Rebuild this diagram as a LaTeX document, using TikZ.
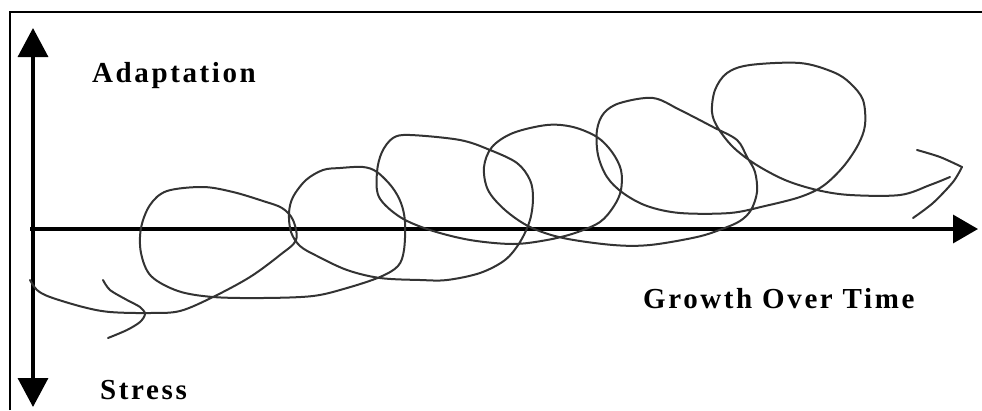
\documentclass[tikz,border=0pt]{standalone}
\usepackage{fontspec}
\usetikzlibrary{arrows.meta}
\newfontfamily\lblfont[LetterSpace=9]{Liberation Serif}
\begin{document}
\begin{tikzpicture}[x=1pt,y=-1pt,
  axisline/.style={line width=3.4pt,-{Triangle[length=29pt,width=30pt]}},
  scribble/.style={line width=2pt,line cap=round,line join=round,color=black!80},
  lbl/.style={anchor=base west,inner sep=0pt,font=\lblfont\bfseries\fontsize{29}{31}\selectfont}]
\useasboundingbox (0,0) rectangle (982,410);
% frame (top and left edges visible)
\draw[line width=2pt] (10,410) -- (10,12) -- (982,12);
% axes
\coordinate (o) at (33,229);
\coordinate (up) at (33,28);
\coordinate (down) at (33,407);
\coordinate (hl) at (30,229);
\coordinate (hr) at (978,229);
\draw[axisline] (o) -- (up);
\draw[axisline] (o) -- (down);
\draw[line width=3.4pt,-{Triangle[length=25pt,width=28pt]}] (hl) -- (hr);
% labels
\node[lbl] (adapt) at (92,82) {Adaptation};
\node[lbl] (stress) at (100,399) {Stress};
\node[lbl] (growth) at (643,308) {Growth Over Time};
% scribbled spiral
\draw[scribble] plot[smooth,tension=0.55] coordinates {
(30,280) (37,290) (50,297) (83,307) (110,312) (150,313) (180,311)
(213,297) (250,277) (280,255) (296,240) (293,220) (282,208) (263,201)
(233,192) (203,187) (167,191) (150,205) (141,228) (141,253) (151,276)
(178,291) (213,297) (263,298) (313,296) (347,288) (380,277) (398,266)
(404,250) (405,222) (401,203) (392,187) (377,172) (363,167) (340,168)
(323,170) (306,180) (293,197) (289,213) (291,232) (300,246) (317,256)
(347,270) (380,278) (420,280) (447,280) (480,273) (505,260) (520,242)
(530,220) (533,198) (530,180) (517,163) (490,150) (460,140) (410,135)
(393,138) (382,152) (377,172) (379,197) (400,217) (430,230) (470,240)
(513,244) (547,240) (575,233) (600,222) (614,206) (621,190) (621,170)
(612,152) (597,137) (573,127) (547,125) (513,133) (492,147) (484,167)
(488,190) (505,210) (530,227) (563,238) (613,245) (650,245) (697,237)
(722,229) (740,221) (751,210) (757,192) (755,172) (747,157) (737,140)
(713,127) (680,110) (653,98) (620,103) (604,113) (597,130) (598,155)
(607,177) (623,193) (647,206) (680,213) (730,213) (765,206) (800,197)
(823,186) (843,167) (858,145) (865,125) (863,100) (850,83) (833,72)
(800,63) (750,65) (727,73) (715,90) (712,112) (718,128) (733,147)
(755,164) (785,180) (817,190) (850,195) (900,195) (930,185) (950,177)};
% hand-drawn arrowheads
\draw[scribble] plot[smooth,tension=0.5] coordinates {
(103,280) (110,290) (127,300) (140,307) (145,314) (140,322) (127,330) (108,338)};
\draw[scribble] plot[smooth,tension=0.5] coordinates {
(917,150) (940,157) (962,167)};
\draw[scribble] plot[smooth,tension=0.5] coordinates {
(962,167) (953,182) (933,203) (913,218)};
\end{tikzpicture}
\end{document}
